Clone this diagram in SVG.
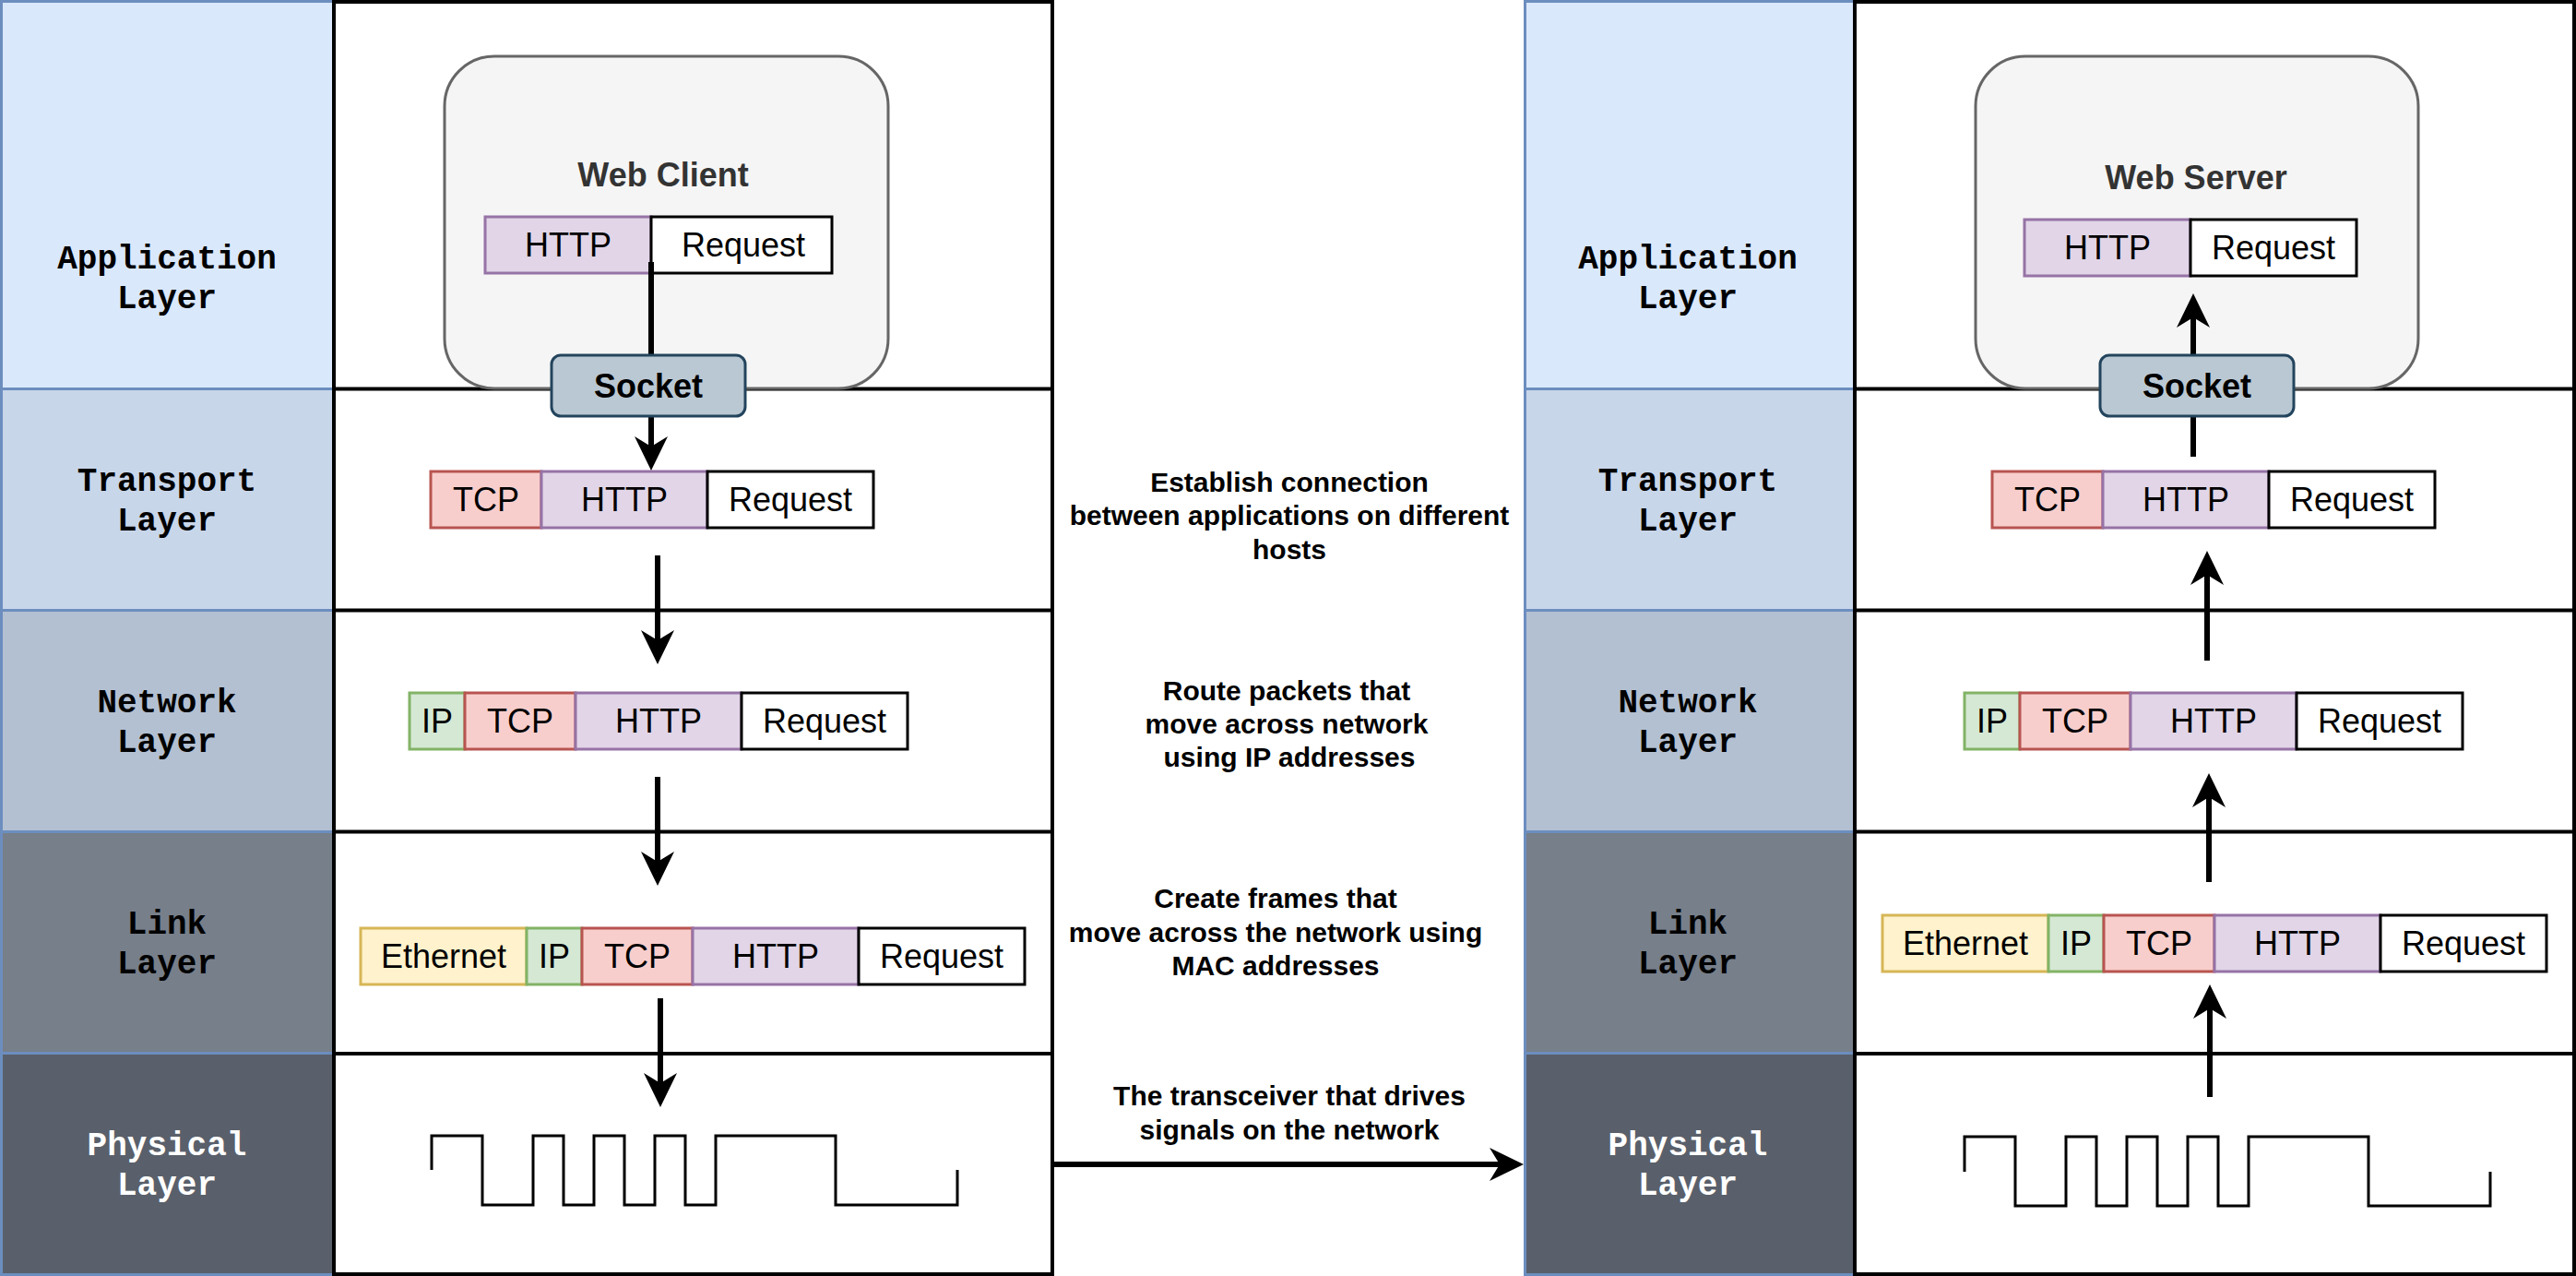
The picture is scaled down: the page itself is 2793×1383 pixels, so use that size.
<svg xmlns="http://www.w3.org/2000/svg" width="2793" height="1383" viewBox="0 0 2793 1383">
<style>
.lab{stroke:#6c8ebf;stroke-width:3}
.main{fill:#fff;stroke:#000;stroke-width:4}
.row{stroke:#000;stroke-width:4}
.lt{font-family:"Liberation Mono","Courier New",monospace;font-weight:bold;font-size:36px;text-anchor:middle;fill:#000}
.wt{fill:#fff}
.host{fill:#f5f5f5;stroke:#666;stroke-width:3}
.ht{font-family:"Liberation Sans",Arial,sans-serif;font-weight:bold;font-size:36px;text-anchor:middle;fill:#333}
.sock{fill:#bac8d3;stroke:#23445d;stroke-width:3}
.st{font-family:"Liberation Sans",Arial,sans-serif;font-weight:bold;font-size:36px;text-anchor:middle;fill:#000}
.pt{font-family:"Liberation Sans",Arial,sans-serif;font-size:36px;text-anchor:middle;fill:#000}
.mt{font-family:"Liberation Sans",Arial,sans-serif;font-weight:bold;font-size:30px;text-anchor:middle;fill:#000}
.http{fill:#e1d5e7;stroke:#9673a6;stroke-width:3}
.tcp{fill:#f8cecc;stroke:#b85450;stroke-width:3}
.ip{fill:#d5e8d4;stroke:#82b366;stroke-width:3}
.eth{fill:#fff2cc;stroke:#d6b656;stroke-width:3}
.req{fill:#fff;stroke:#000;stroke-width:3}
.wave{fill:none;stroke:#000;stroke-width:3}
.edge{fill:none;stroke:#000;stroke-width:6}
</style>
<defs>
<marker id="arr" markerUnits="userSpaceOnUse" markerWidth="40" markerHeight="40" viewBox="-38 -20 40 40" refX="-26" refY="0" orient="auto">
<path d="M0,0 L-37,-18 L-26,0 L-37,18 Z" fill="#000"/>
</marker>
</defs>

<g id="left-labels">
<rect class="lab" x="1.5" y="1.5" width="360" height="420" fill="#dae8fc"/>
<rect class="lab" x="1.5" y="421.5" width="360" height="240" fill="#c8d6ea"/>
<rect class="lab" x="1.5" y="661.5" width="360" height="240" fill="#b3c0d2"/>
<rect class="lab" x="1.5" y="901.5" width="360" height="240" fill="#777f8a"/>
<rect class="lab" x="1.5" y="1141.5" width="360" height="240" fill="#59606b"/>
<text class="lt" x="181" y="291">Application</text><text class="lt" x="181" y="334">Layer</text>
<text class="lt" x="181" y="532">Transport</text><text class="lt" x="181" y="575">Layer</text>
<text class="lt" x="181" y="772">Network</text><text class="lt" x="181" y="815">Layer</text>
<text class="lt" x="181" y="1012">Link</text><text class="lt" x="181" y="1055">Layer</text>
<text class="lt wt" x="181" y="1252">Physical</text><text class="lt wt" x="181" y="1295">Layer</text>
</g>

<g id="right-labels">
<rect class="lab" x="1653.5" y="1.5" width="358" height="420" fill="#dae8fc"/>
<rect class="lab" x="1653.5" y="421.5" width="358" height="240" fill="#c8d6ea"/>
<rect class="lab" x="1653.5" y="661.5" width="358" height="240" fill="#b3c0d2"/>
<rect class="lab" x="1653.5" y="901.5" width="358" height="240" fill="#777f8a"/>
<rect class="lab" x="1653.5" y="1141.5" width="358" height="240" fill="#59606b"/>
<text class="lt" x="1830" y="291">Application</text><text class="lt" x="1830" y="334">Layer</text>
<text class="lt" x="1830" y="532">Transport</text><text class="lt" x="1830" y="575">Layer</text>
<text class="lt" x="1830" y="772">Network</text><text class="lt" x="1830" y="815">Layer</text>
<text class="lt" x="1830" y="1012">Link</text><text class="lt" x="1830" y="1055">Layer</text>
<text class="lt wt" x="1830" y="1252">Physical</text><text class="lt wt" x="1830" y="1295">Layer</text>
</g>

<g id="left-stack">
<rect class="main" x="362" y="2" width="779" height="1379"/>
<line class="row" x1="362" y1="421.5" x2="1141" y2="421.5"/>
<line class="row" x1="362" y1="661.5" x2="1141" y2="661.5"/>
<line class="row" x1="362" y1="901.5" x2="1141" y2="901.5"/>
<line class="row" x1="362" y1="1142" x2="1141" y2="1142"/>
</g>

<g id="right-stack">
<rect class="main" x="2011" y="2" width="780" height="1379"/>
<line class="row" x1="2011" y1="421.5" x2="2791" y2="421.5"/>
<line class="row" x1="2011" y1="661.5" x2="2791" y2="661.5"/>
<line class="row" x1="2011" y1="901.5" x2="2791" y2="901.5"/>
<line class="row" x1="2011" y1="1142" x2="2791" y2="1142"/>
</g>

<g id="web-client">
<rect class="host" x="482" y="61" width="481" height="360" rx="54" ry="54"/>
<text class="ht" x="719" y="202">Web Client</text>
</g>

<g id="web-server">
<rect class="host" x="2142" y="61" width="480" height="360" rx="54" ry="54"/>
<text class="ht" x="2381" y="205">Web Server</text>
</g>

<g id="app-packet-left">
<rect class="http" x="526" y="235" width="180" height="61"/><text class="pt" x="616" y="278">HTTP</text>
<rect class="req" x="706" y="235" width="196" height="61"/><text class="pt" x="806" y="278">Request</text>
</g>

<g id="app-packet-right">
<rect class="http" x="2195" y="238" width="180" height="61"/><text class="pt" x="2285" y="281">HTTP</text>
<rect class="req" x="2375" y="238" width="180" height="61"/><text class="pt" x="2465" y="281">Request</text>
</g>

<g id="transport-packet-left">
<rect class="tcp" x="467" y="511" width="120" height="61"/><text class="pt" x="527" y="554">TCP</text>
<rect class="http" x="587" y="511" width="180" height="61"/><text class="pt" x="677" y="554">HTTP</text>
<rect class="req" x="767" y="511" width="180" height="61"/><text class="pt" x="857" y="554">Request</text>
</g>

<g id="transport-packet-right">
<rect class="tcp" x="2160" y="511" width="120" height="61"/><text class="pt" x="2220" y="554">TCP</text>
<rect class="http" x="2280" y="511" width="180" height="61"/><text class="pt" x="2370" y="554">HTTP</text>
<rect class="req" x="2460" y="511" width="180" height="61"/><text class="pt" x="2550" y="554">Request</text>
</g>

<g id="network-packet-left">
<rect class="ip" x="444" y="751" width="60" height="61"/><text class="pt" x="474" y="794">IP</text>
<rect class="tcp" x="504" y="751" width="120" height="61"/><text class="pt" x="564" y="794">TCP</text>
<rect class="http" x="624" y="751" width="180" height="61"/><text class="pt" x="714" y="794">HTTP</text>
<rect class="req" x="804" y="751" width="180" height="61"/><text class="pt" x="894" y="794">Request</text>
</g>

<g id="network-packet-right">
<rect class="ip" x="2130" y="751" width="60" height="61"/><text class="pt" x="2160" y="794">IP</text>
<rect class="tcp" x="2190" y="751" width="120" height="61"/><text class="pt" x="2250" y="794">TCP</text>
<rect class="http" x="2310" y="751" width="180" height="61"/><text class="pt" x="2400" y="794">HTTP</text>
<rect class="req" x="2490" y="751" width="180" height="61"/><text class="pt" x="2580" y="794">Request</text>
</g>

<g id="link-frame-left">
<rect class="eth" x="391" y="1006" width="180" height="61"/><text class="pt" x="481" y="1049">Ethernet</text>
<rect class="ip" x="571" y="1006" width="60" height="61"/><text class="pt" x="601" y="1049">IP</text>
<rect class="tcp" x="631" y="1006" width="120" height="61"/><text class="pt" x="691" y="1049">TCP</text>
<rect class="http" x="751" y="1006" width="180" height="61"/><text class="pt" x="841" y="1049">HTTP</text>
<rect class="req" x="931" y="1006" width="180" height="61"/><text class="pt" x="1021" y="1049">Request</text>
</g>

<g id="link-frame-right">
<rect class="eth" x="2041" y="992" width="180" height="61"/><text class="pt" x="2131" y="1035">Ethernet</text>
<rect class="ip" x="2221" y="992" width="60" height="61"/><text class="pt" x="2251" y="1035">IP</text>
<rect class="tcp" x="2281" y="992" width="120" height="61"/><text class="pt" x="2341" y="1035">TCP</text>
<rect class="http" x="2401" y="992" width="180" height="61"/><text class="pt" x="2491" y="1035">HTTP</text>
<rect class="req" x="2581" y="992" width="180" height="61"/><text class="pt" x="2671" y="1035">Request</text>
</g>

<g id="signal-left">
<path class="wave" d="M468,1268 V1231 H523 V1306 H578 V1231 H611 V1306 H644 V1231 H677 V1306 H710 V1231 H743 V1306 H776 V1231 H906 V1306 H1038 V1268"/>
</g>

<g id="signal-right">
<path class="wave" d="M2130,1270 V1232 H2185 V1307 H2240 V1232 H2273 V1307 H2306 V1232 H2339 V1307 H2372 V1232 H2405 V1307 H2438 V1232 H2568 V1307 H2700 V1270"/>
</g>

<g id="descriptions">
<text class="mt" x="1398" y="533">Establish connection</text>
<text class="mt" x="1398" y="569">between applications on different</text>
<text class="mt" x="1398" y="606">hosts</text>
<text class="mt" x="1395" y="759">Route packets that</text>
<text class="mt" x="1395" y="795">move across network</text>
<text class="mt" x="1398" y="831">using IP addresses</text>
<text class="mt" x="1383" y="984">Create frames that</text>
<text class="mt" x="1383" y="1021">move across the network using</text>
<text class="mt" x="1383" y="1057">MAC addresses</text>
<text class="mt" x="1398" y="1198">The transceiver that drives</text>
<text class="mt" x="1398" y="1235">signals on the network</text>
</g>

<g id="connectors">
<line class="edge" x1="706" y1="284" x2="706" y2="385"/>
<line class="edge" x1="706" y1="452" x2="706" y2="484" marker-end="url(#arr)"/>
<line class="edge" x1="713" y1="602" x2="713" y2="694" marker-end="url(#arr)"/>
<line class="edge" x1="713" y1="842" x2="713" y2="934" marker-end="url(#arr)"/>
<line class="edge" x1="716" y1="1082" x2="716" y2="1174" marker-end="url(#arr)"/>
<line class="edge" x1="1142" y1="1262" x2="1626" y2="1262" marker-end="url(#arr)"/>
<line class="edge" x1="2378" y1="495" x2="2378" y2="452"/>
<line class="edge" x1="2378" y1="385" x2="2378" y2="344" marker-end="url(#arr)"/>
<line class="edge" x1="2393" y1="716" x2="2393" y2="623" marker-end="url(#arr)"/>
<line class="edge" x1="2395" y1="956" x2="2395" y2="864" marker-end="url(#arr)"/>
<line class="edge" x1="2396" y1="1189" x2="2396" y2="1093" marker-end="url(#arr)"/>
</g>

<g id="socket-left">
<rect class="sock" x="598" y="385" width="210" height="66" rx="10" ry="10"/>
<text class="st" x="703" y="431">Socket</text>
</g>

<g id="socket-right">
<rect class="sock" x="2277" y="385" width="210" height="66" rx="10" ry="10"/>
<text class="st" x="2382" y="431">Socket</text>
</g>
</svg>
